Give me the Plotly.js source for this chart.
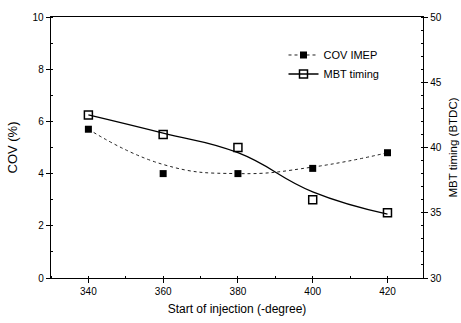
<!DOCTYPE html>
<html><head><meta charset="utf-8">
<script src="https://cdn.plot.ly/plotly-3.0.1.min.js"></script>
<style>html,body{margin:0;padding:0;background:#fff}#c{width:461px;height:323px}</style>
</head><body><div id="c"></div>
<script>
const injection = [340, 360, 380, 400, 420];
const covImep = [5.7, 4.0, 4.0, 4.2, 4.8];
const mbtTiming = [42.5, 41.0, 40.0, 36.0, 35.0];
// fitted trend curves at the same x positions
const covFit = [5.7, 4.35, 4.0, 4.25, 4.8];
const mbtFit = [42.5, 41.1, 39.6, 36.6, 34.9];
const seriesNames = ['COV IMEP', 'MBT timing'];

const F = 'Liberation Sans, Arial, sans-serif';
const traces = [
  {x: injection, y: covFit, mode: 'lines', line: {shape: 'spline', smoothing: 1.3, dash: 'dot', color: '#222', width: 1}, showlegend: false, hoverinfo: 'skip'},
  {x: injection, y: covImep, mode: 'markers', marker: {symbol: 'square', size: 7, color: '#000'}, showlegend: false},
  {x: injection, y: mbtFit, yaxis: 'y2', mode: 'lines', line: {shape: 'spline', smoothing: 1.3, color: '#000', width: 1.3}, showlegend: false, hoverinfo: 'skip'},
  {x: injection, y: mbtTiming, yaxis: 'y2', mode: 'markers', marker: {symbol: 'square-open', size: 8, color: '#000', line: {width: 1.5}}, showlegend: false},
  {x: [null], y: [null], name: seriesNames[0], mode: 'lines+markers', line: {dash: 'dot', color: '#222', width: 1}, marker: {symbol: 'square', size: 7, color: '#000'}},
  {x: [null], y: [null], name: seriesNames[1], mode: 'lines+markers', line: {color: '#000', width: 1.3}, marker: {symbol: 'square-open', size: 8, color: '#000', line: {width: 1.5}}}
];
const layout = {
  width: 461, height: 323,
  margin: {l: 51, r: 38, t: 17, b: 45},
  paper_bgcolor: '#fff', plot_bgcolor: '#fff',
  font: {family: F, color: '#000', size: 10},
  showlegend: true,
  legend: {x: 0.625, y: 0.91, xanchor: 'left', yanchor: 'top', bgcolor: 'rgba(0,0,0,0)', font: {size: 11, family: F}, tracegroupgap: 0, itemwidth: 30},
  xaxis: {
    range: [330, 429.5], tickvals: [340, 360, 380, 400, 420],
    showline: true, linecolor: '#000', linewidth: 1.3, mirror: true,
    ticks: 'outside', ticklen: 4, tickcolor: '#000',
    minor: {dtick: 10, ticks: 'inside', ticklen: 2, tickcolor: '#000'},
    showgrid: false, zeroline: false,
    tickfont: {size: 10, family: F},
    title: {text: 'Start of injection (-degree)', font: {size: 12, family: F}, standoff: 8}
  },
  yaxis: {
    range: [0, 10], tickvals: [0, 2, 4, 6, 8, 10],
    showline: true, linecolor: '#000', linewidth: 1.3,
    ticks: 'outside', ticklen: 4, tickcolor: '#000',
    minor: {dtick: 1, ticks: 'inside', ticklen: 2, tickcolor: '#000'},
    showgrid: false, zeroline: false,
    tickfont: {size: 10, family: F},
    title: {text: 'COV (%)', font: {size: 13, family: F}, standoff: 12}
  },
  yaxis2: {
    overlaying: 'y', side: 'right', range: [30, 50], tickvals: [30, 35, 40, 45, 50],
    showline: true, linecolor: '#000', linewidth: 1.3,
    ticks: 'outside', ticklen: 4, tickcolor: '#000',
    minor: {dtick: 1, ticks: 'inside', ticklen: 2, tickcolor: '#000'},
    showgrid: false, zeroline: false,
    tickfont: {size: 10, family: F},
    title: {text: 'MBT timing (BTDC)', font: {size: 11.5, family: F}, standoff: 8}
  }
};
Plotly.newPlot('c', traces, layout, {staticPlot: true, displayModeBar: false});
</script></body></html>
